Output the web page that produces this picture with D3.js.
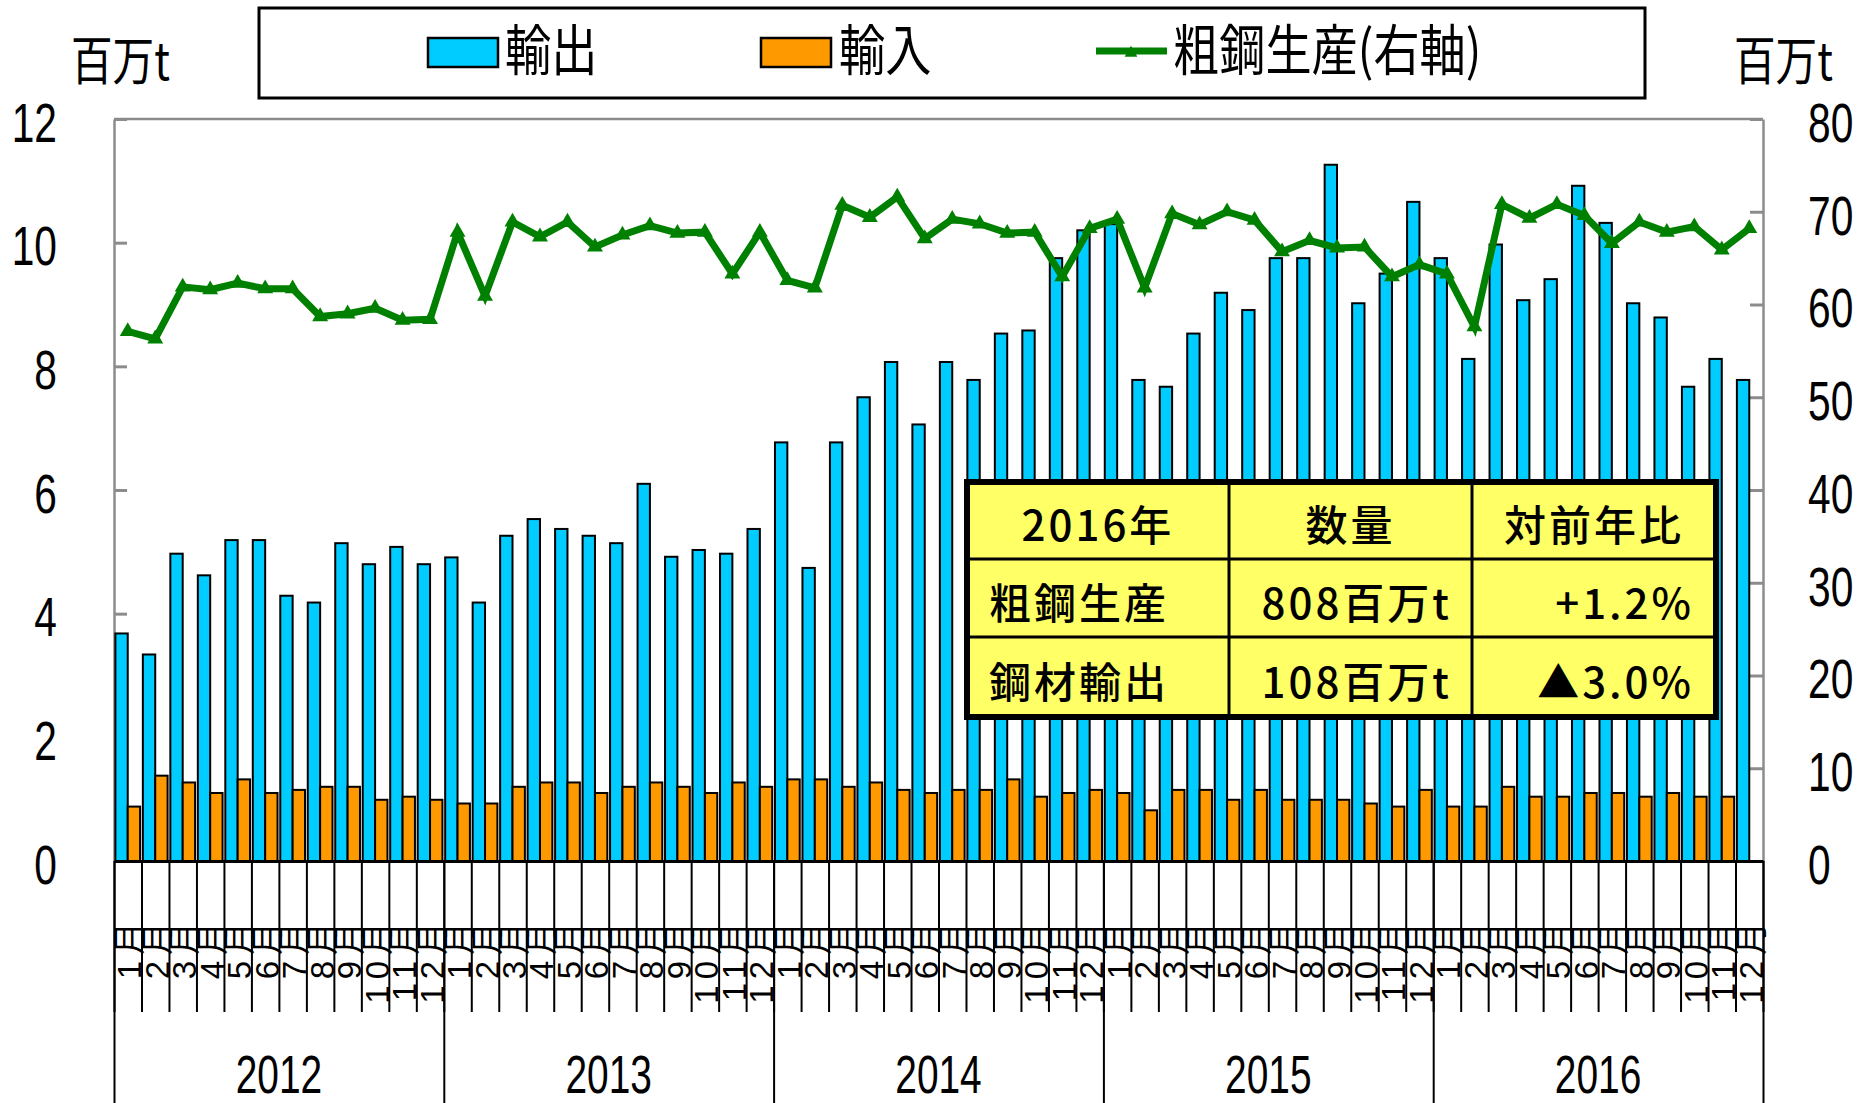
<!DOCTYPE html>
<html><head><meta charset="utf-8">
<script src="https://cdn.jsdelivr.net/npm/d3@7"></script>
<style>body{margin:0;background:#fff;} svg{display:block}</style>
</head><body><svg id="c" width="1864" height="1103"></svg>
<script>
// ---------------- data ----------------
const years = ["2012","2013","2014","2015","2016"];
const monthLabels = ["1月","2月","3月","4月","5月","6月","7月","8月","9月","10月","11月","12月"];
const exportsData = [
  3.68,3.34,4.97,4.62,5.19,5.19,4.29,4.18,5.14,4.80,5.08,4.80,
  4.91,4.18,5.26,5.53,5.37,5.26,5.14,6.10,4.92,5.03,4.97,5.37,
  6.77,4.74,6.77,7.50,8.07,7.06,8.07,7.78,8.53,8.58,9.75,10.20,
  10.30,7.78,7.67,8.53,9.19,8.91,9.75,9.75,11.26,9.02,9.50,10.66,
  9.75,8.12,9.97,9.07,9.41,10.92,10.32,9.02,8.79,7.67,8.12,7.78
];
const importsData = [
  0.88,1.38,1.27,1.10,1.32,1.10,1.15,1.20,1.20,0.99,1.04,0.99,
  0.93,0.93,1.20,1.27,1.27,1.10,1.20,1.27,1.20,1.10,1.27,1.20,
  1.32,1.32,1.20,1.27,1.15,1.10,1.15,1.15,1.32,1.04,1.10,1.15,
  1.10,0.82,1.15,1.15,0.99,1.15,0.99,0.99,0.99,0.93,0.88,1.15,
  0.88,0.88,1.20,1.04,1.04,1.10,1.10,1.04,1.10,1.04,1.04,null
];
const steelData = [
  57.1,56.3,61.9,61.6,62.3,61.7,61.7,58.7,59.0,59.6,58.3,58.4,
  67.8,60.9,68.9,67.3,68.9,66.2,67.5,68.5,67.7,67.8,63.3,67.8,
  62.6,61.8,70.7,69.4,71.6,67.1,69.2,68.7,67.7,67.8,63.0,68.2,
  69.2,61.8,69.8,68.6,70.0,69.1,65.7,66.9,66.1,66.2,63.0,64.3,
  63.3,57.6,70.8,69.3,70.8,69.6,66.6,68.9,67.8,68.4,65.9,68.2
];
const leftTicks = [0,2,4,6,8,10,12];
const rightTicks = [0,10,20,30,40,50,60,70,80];
const seriesNames = ["輸出","輸入","粗鋼生産(右軸)"];
const unitLabel = "百万t";
const tableHeader = ["2016年","数量","対前年比"];
const tableRows = [
  ["粗鋼生産","808百万t","+1.2%"],
  ["鋼材輸出","108百万t","▲3.0%"]
];

// ---------------- layout ----------------
const svg = d3.select('#c');
const X0 = 114, X1 = 1763, YT = 119, YB = 861;
const nM = exportsData.length;
const idx = d3.range(nM);
const x = d3.scaleBand().domain(idx).range([X0, X1]).paddingInner(0.1).paddingOuter(0.05);
const xs = d3.scaleBand().domain(['exp','imp']).range([0, x.bandwidth()]);
const xEdge = d3.scaleLinear().domain([0, nM]).range([X0, X1]);
const xYear = d3.scaleBand().domain(years).range([X0, X1]);
const yL = d3.scaleLinear().domain([0, 12]).range([YB, YT]);
const yR = d3.scaleLinear().domain([0, 80]).range([YB, YT]);

const BLUE = '#00CCFF', ORANGE = '#FF9900', GREEN = '#008000', GRAY = '#8c8c8c';
const NUM = '"Liberation Sans", Arial, sans-serif';
const CJK = '"Noto Sans CJK JP", "Noto Sans", sans-serif';

// frame top (gray)
svg.append('line').attr('x1', X0).attr('x2', X1).attr('y1', YT).attr('y2', YT)
  .attr('stroke', GRAY).attr('stroke-width', 2.5);

// left axis
const gL = svg.append('g').attr('transform', `translate(${X0},0)`)
  .call(d3.axisLeft(yL).tickValues(leftTicks).tickSize(-13).tickSizeOuter(0).tickPadding(0).tickFormat(d3.format('d')));
gL.select('.domain').attr('stroke', GRAY).attr('stroke-width', 2.5);
gL.selectAll('.tick line').attr('stroke', GRAY).attr('stroke-width', 3);
gL.selectAll('.tick text').attr('x', null).attr('dy', null)
  .attr('transform', 'translate(-57,3) scale(0.74,1)')
  .attr('text-anchor', 'end').attr('dominant-baseline', 'central')
  .style('font-family', NUM).style('font-size', '55px').attr('fill', '#000');

// right axis
const gR = svg.append('g').attr('transform', `translate(${X1},0)`)
  .call(d3.axisRight(yR).tickValues(rightTicks).tickSize(-13).tickSizeOuter(0).tickPadding(0).tickFormat(d3.format('d')));
gR.select('.domain').attr('stroke', GRAY).attr('stroke-width', 2.5);
gR.selectAll('.tick line').attr('stroke', GRAY).attr('stroke-width', 3);
gR.selectAll('.tick text').attr('x', null).attr('dy', null)
  .attr('transform', 'translate(45,3) scale(0.74,1)')
  .attr('text-anchor', 'start').attr('dominant-baseline', 'central')
  .style('font-family', NUM).style('font-size', '55px').attr('fill', '#000');

// bars
svg.append('g').selectAll('rect').data(exportsData).join('rect')
  .attr('x', (d, i) => x(i) + xs('exp')).attr('y', d => yL(d))
  .attr('width', xs.bandwidth()).attr('height', d => YB - yL(d))
  .attr('fill', BLUE).attr('stroke', '#000').attr('stroke-width', 2);
svg.append('g').selectAll('rect').data(importsData.map((v, i) => ({v, i})).filter(d => d.v != null)).join('rect')
  .attr('x', d => x(d.i) + xs('imp')).attr('y', d => yL(d.v))
  .attr('width', xs.bandwidth()).attr('height', d => YB - yL(d.v))
  .attr('fill', ORANGE).attr('stroke', '#000').attr('stroke-width', 2);

// x axis : month ticks
const gX = svg.append('g').attr('transform', `translate(0,${YB})`)
  .call(d3.axisBottom(xEdge).tickValues(d3.range(0, nM + 1)).tickSize(151).tickSizeOuter(0).tickFormat(''));
gX.select('.domain').attr('stroke', '#000').attr('stroke-width', 3);
gX.selectAll('.tick line').attr('stroke', '#000').attr('stroke-width', 2);
// year separators
const gY = svg.append('g').attr('transform', `translate(0,${YB})`)
  .call(d3.axisBottom(xEdge).tickValues(d3.range(0, nM + 1, 12)).tickSize(242).tickSizeOuter(0).tickFormat(''));
gY.select('.domain').remove();
gY.selectAll('.tick line').attr('stroke', '#000').attr('stroke-width', 2);

// month labels
svg.append('g').selectAll('text').data(idx).join('text')
  .attr('transform', i => `translate(${x(i) + x.bandwidth() / 2 + 2},916) rotate(-90)`)
  .attr('text-anchor', 'end').attr('dominant-baseline', 'central')
  .style('font-family', NUM + ',' + CJK).style('font-size', '33px').style('letter-spacing', '6px')
  .text(i => monthLabels[i % 12]);

// year labels
svg.append('g').selectAll('text').data(years).join('text')
  .attr('transform', d => `translate(${xYear(d) + xYear.bandwidth() / 2},1093) scale(0.72,1)`)
  .attr('text-anchor', 'middle')
  .style('font-family', NUM).style('font-size', '54px')
  .text(d => d);

// steel line
const cx = i => x(i) + x.bandwidth() / 2;
svg.append('path').datum(steelData)
  .attr('d', d3.line().x((d, i) => cx(i)).y(d => yR(d)))
  .attr('fill', 'none').attr('stroke', GREEN).attr('stroke-width', 7).attr('stroke-linejoin', 'miter');
svg.append('g').selectAll('path').data(steelData).join('path')
  .attr('transform', (d, i) => `translate(${cx(i)},${yR(d)})`)
  .attr('d', d3.symbol(d3.symbolTriangle, 110))
  .attr('fill', GREEN);

// unit labels
svg.append('text').attr('transform', 'translate(71,80) scale(0.8,1)')
  .style('font-family', CJK).style('font-size', '52px').text(unitLabel);
svg.append('text').attr('transform', 'translate(1734,80) scale(0.8,1)')
  .style('font-family', CJK).style('font-size', '52px').text(unitLabel);

// legend
const lg = svg.append('g');
lg.append('rect').attr('x', 259).attr('y', 8).attr('width', 1386).attr('height', 90)
  .attr('fill', '#fff').attr('stroke', '#000').attr('stroke-width', 3);
lg.append('rect').attr('x', 428).attr('y', 38).attr('width', 70).attr('height', 29)
  .attr('fill', BLUE).attr('stroke', '#000').attr('stroke-width', 2.5);
lg.append('rect').attr('x', 761).attr('y', 38).attr('width', 70).attr('height', 29)
  .attr('fill', ORANGE).attr('stroke', '#000').attr('stroke-width', 2.5);
lg.append('line').attr('x1', 1096).attr('x2', 1167).attr('y1', 51).attr('y2', 51)
  .attr('stroke', GREEN).attr('stroke-width', 7);
lg.append('path').attr('transform', 'translate(1131,53)').attr('d', d3.symbol(d3.symbolTriangle, 70)).attr('fill', GREEN);
const legX = [505, 839, 1173];
lg.selectAll('text').data(seriesNames).join('text')
  .attr('transform', (d, i) => `translate(${legX[i]},70) scale(0.84,1)`)
  .style('font-family', CJK).style('font-size', '55px').text(d => d);

// table
const colX = [967, 1229, 1472, 1716];
const rowY = [482, 559, 637, 717];
const tb = svg.append('g');
tb.append('rect').attr('x', colX[0]).attr('y', rowY[0]).attr('width', colX[3] - colX[0]).attr('height', rowY[3] - rowY[0])
  .attr('fill', '#FFFF66');
[1, 2].forEach(k => {
  tb.append('line').attr('x1', colX[k]).attr('x2', colX[k]).attr('y1', rowY[0]).attr('y2', rowY[3]).attr('stroke', '#000').attr('stroke-width', 3);
  tb.append('line').attr('x1', colX[0]).attr('x2', colX[3]).attr('y1', rowY[k]).attr('y2', rowY[k]).attr('stroke', '#000').attr('stroke-width', 3);
});
tb.append('rect').attr('x', colX[0]).attr('y', rowY[0]).attr('width', colX[3] - colX[0]).attr('height', rowY[3] - rowY[0])
  .attr('fill', 'none').attr('stroke', '#000').attr('stroke-width', 6);
const cellStyle = s => s.style('font-family', CJK).style('font-size', '42px').style('letter-spacing', '3px')
  .style('font-weight', 500).attr('dominant-baseline', 'central');
tableHeader.forEach((t, c) => {
  tb.append('text').attr('x', (colX[c] + colX[c + 1]) / 2).attr('y', (rowY[0] + rowY[1]) / 2 + 2)
    .attr('text-anchor', 'middle').call(cellStyle).text(t);
});
tableRows.forEach((row, r) => {
  const yc = (rowY[r + 1] + rowY[r + 2]) / 2 + 2;
  tb.append('text').attr('x', colX[0] + 22).attr('y', yc).attr('text-anchor', 'start').call(cellStyle).text(row[0]);
  tb.append('text').attr('x', colX[2] - 20).attr('y', yc).attr('text-anchor', 'end').call(cellStyle).text(row[1]);
  tb.append('text').attr('x', colX[3] - 22).attr('y', yc).attr('text-anchor', 'end').call(cellStyle).text(row[2]);
});
</script>
</body></html>
